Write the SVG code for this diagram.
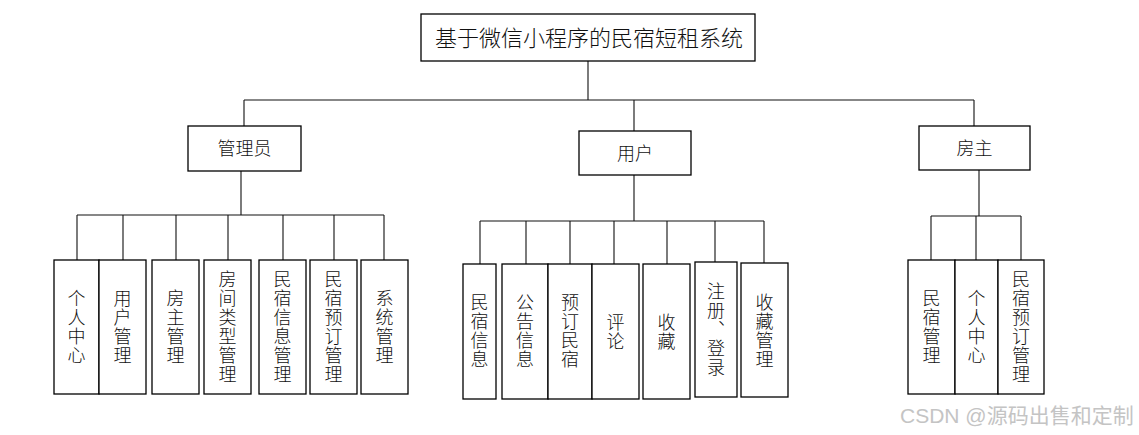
<svg xmlns="http://www.w3.org/2000/svg" width="1139" height="435" viewBox="0 0 1139 435">
<style>
  .box { fill: #fff; stroke: #000; stroke-width: 1.3; }
  .ln { fill: none; stroke: #111; stroke-width: 1.1; }
  text { font-family: "Noto Sans CJK SC", "Liberation Sans", sans-serif; fill: #111; font-weight: 300; }
  .t { font-size: 22px; text-anchor: middle; }
  .m { font-size: 18px; text-anchor: middle; }
  .v { font-size: 18px; text-anchor: middle; writing-mode: vertical-rl; letter-spacing: 1px; }
  .nv { font-feature-settings: "vert" 0, "vrt2" 0; }
  .wm { font-family: "Liberation Sans", "Noto Sans CJK SC", sans-serif; font-size: 21px; fill: #c4c4c4; font-weight: normal; }
</style>
<rect width="1139" height="435" fill="#fff"/>
<g id="connectors">
  <path class="ln" d="M588 61V100M244 100H974M244 100V126M634 100V131M974 100V126"/>
  <path class="ln" d="M241 171V215M77 215H384M77 215V260M123 215V260M176 215V260M228 215V260M283 215V260M334 215V260M384 215V260"/>
  <path class="ln" d="M634 175V221M480 221H764M480 221V264M526 221V264M570 221V264M614 221V264M667 221V264M715 221V262M764 221V263"/>
  <path class="ln" d="M979 170V216M931 216H1021M931 216V260M976 216V260M1021 216V260"/>
</g>
<g id="root">
  <rect class="box" x="421" y="14" width="334" height="47"/>
  <text class="t" x="589" y="45.8">基于微信小程序的民宿短租系统</text>
</g>
<g id="admin">
  <rect class="box" x="188" y="126" width="113" height="45"/>
  <text class="m" x="244.5" y="155.3">管理员</text>
</g>
<g id="user">
  <rect class="box" x="579" y="131" width="112" height="44"/>
  <text class="m" x="635" y="159.8">用户</text>
</g>
<g id="owner">
  <rect class="box" x="919" y="126" width="111" height="44"/>
  <text class="m" x="974.5" y="154.8">房主</text>
</g>
<g id="a1">
  <rect class="box" x="54" y="260" width="45" height="134"/>
  <text class="v" x="76.5" y="327">个人中心</text>
</g>
<g id="a2">
  <rect class="box" x="99" y="260" width="47" height="134"/>
  <text class="v" x="122.5" y="327">用户管理</text>
</g>
<g id="a3">
  <rect class="box" x="152" y="260" width="47" height="134"/>
  <text class="v" x="175.5" y="327">房主管理</text>
</g>
<g id="a4">
  <rect class="box" x="204" y="260" width="47" height="134"/>
  <text class="v" x="227.5" y="327">房间类型管理</text>
</g>
<g id="a5">
  <rect class="box" x="259" y="260" width="47" height="134"/>
  <text class="v" x="282.5" y="327">民宿信息管理</text>
</g>
<g id="a6">
  <rect class="box" x="310" y="260" width="47" height="134"/>
  <text class="v" x="333.5" y="327">民宿预订管理</text>
</g>
<g id="a7">
  <rect class="box" x="361" y="260" width="47" height="134"/>
  <text class="v" x="384.5" y="327">系统管理</text>
</g>
<g id="u1">
  <rect class="box" x="463" y="264" width="33" height="135"/>
  <text class="v" x="479.5" y="331.5">民宿信息</text>
</g>
<g id="u2">
  <rect class="box" x="502" y="264" width="46" height="135"/>
  <text class="v" x="525" y="331.5">公告信息</text>
</g>
<g id="u3">
  <rect class="box" x="548" y="264" width="44" height="135"/>
  <text class="v" x="570" y="331.5">预订民宿</text>
</g>
<g id="u4">
  <rect class="box" x="592" y="264" width="47" height="135"/>
  <text class="v" x="615.5" y="332">评论</text>
</g>
<g id="u5">
  <rect class="box" x="643" y="264" width="47" height="135"/>
  <text class="v" x="666.5" y="332">收藏</text>
</g>
<g id="u6">
  <rect class="box" x="695" y="262" width="42" height="135"/>
  <text class="v" x="716" y="329.5">注册<tspan class="nv">、</tspan>登录</text>
</g>
<g id="u7">
  <rect class="box" x="741" y="263" width="47" height="134"/>
  <text class="v" x="764.5" y="331">收藏管理</text>
</g>
<g id="o1">
  <rect class="box" x="908" y="260" width="47" height="134"/>
  <text class="v" x="931.5" y="327">民宿管理</text>
</g>
<g id="o2">
  <rect class="box" x="955" y="260" width="43" height="134"/>
  <text class="v" x="976.5" y="327">个人中心</text>
</g>
<g id="o3">
  <rect class="box" x="998" y="260" width="46" height="134"/>
  <text class="v" x="1021" y="327">民宿预订管理</text>
</g>
<text class="wm" x="900" y="423">CSDN @源码出售和定制</text>
</svg>
